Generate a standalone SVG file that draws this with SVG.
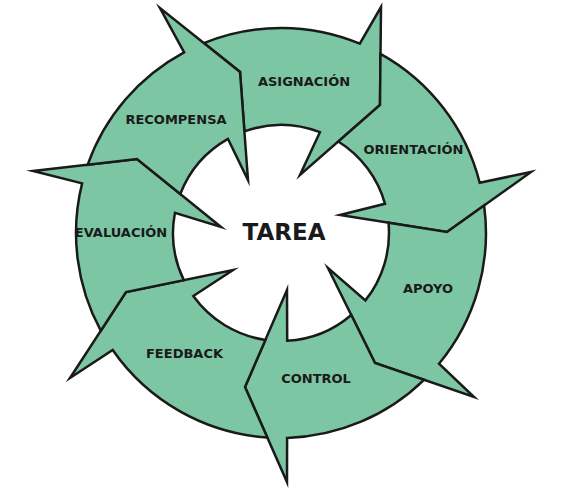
<svg xmlns="http://www.w3.org/2000/svg" width="561" height="489" viewBox="0 0 561 489">
<style>
.seg{fill:#7dc6a4;stroke:#1a1a1a;stroke-width:2.5;stroke-linejoin:miter;stroke-miterlimit:10}
.lbl{font-family:"DejaVu Sans","Liberation Sans",sans-serif;font-weight:bold;font-size:13px;fill:#1a1a1a;text-anchor:middle}
.ctr{font-family:"DejaVu Sans","Liberation Sans",sans-serif;font-weight:bold;font-size:23px;fill:#1a1a1a;text-anchor:middle}
</style>
<rect width="561" height="489" fill="#ffffff"/>
<g id="asignacion">
<path class="seg" d="M203.8,43.1 A205,205 0 0 1 359.8,43.7 L381,7 L380,105 L300,175 L319.9,132.2 A108,108 0 0 0 244.4,131.4 L240,72 Z"/>
<text class="lbl" x="304" y="86">ASIGNACIÓN</text>
</g>
<g id="orientacion">
<path class="seg" d="M380.5,53.8 A205,205 0 0 1 479.7,182.7 L531,172 L447,232 L340,215 L385,203.8 A108,108 0 0 0 338.3,141.5 L380,105 Z"/>
<text class="lbl" x="413.5" y="154">ORIENTACIÓN</text>
</g>
<g id="apoyo">
<path class="seg" d="M484.1,205.5 A205,205 0 0 1 439,363.7 L474,397 L375,363 L328,268 L365.4,300.4 A108,108 0 0 0 388.5,222.7 L447,232 Z"/>
<text class="lbl" x="428" y="293">APOYO</text>
</g>
<g id="control">
<path class="seg" d="M424,379.8 A205,205 0 0 1 287.1,437.9 L287,482 L245,387 L287,290 L287.2,340.8 A108,108 0 0 0 351.3,315 L375,363 Z"/>
<text class="lbl" x="316" y="383">CONTROL</text>
</g>
<g id="feedback">
<path class="seg" d="M267.3,437.5 A205,205 0 0 1 112.7,350 L70,378 L126,292 L233,270 L193.3,296 A108,108 0 0 0 265.4,339.9 L245,387 Z"/>
<text class="lbl" x="184.5" y="358">FEEDBACK</text>
</g>
<g id="evaluacion">
<path class="seg" d="M100.8,330.7 A205,205 0 0 1 82.1,183.4 L33,171 L137,159 L221,227 L174.9,212.9 A108,108 0 0 0 183.8,280.1 L126,292 Z"/>
<text class="lbl" x="121" y="237">EVALUACIÓN</text>
</g>
<g id="recompensa">
<path class="seg" d="M87.7,164.7 A205,205 0 0 1 184.1,52.3 L160,8 L240,72 L248,180 L228,138.9 A108,108 0 0 0 180.3,194 L137,159 Z"/>
<text class="lbl" x="176" y="124">RECOMPENSA</text>
</g>
<g id="tarea">
<text class="ctr" x="284" y="239.5">TAREA</text>
</g>
</svg>
